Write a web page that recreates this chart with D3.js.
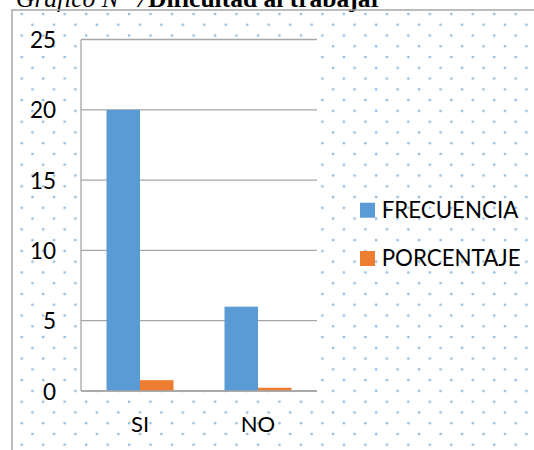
<!DOCTYPE html>
<html>
<head>
<meta charset="utf-8">
<script src="https://cdn.jsdelivr.net/npm/d3@7"></script>
<style>
  html, body { margin: 0; padding: 0; background: #fff; }
  svg { display: block; }
</style>
</head>
<body>
<svg id="chart" width="534" height="450"></svg>
<script>
// Chart data
const categories = ["SI", "NO"];
const seriesNames = ["FRECUENCIA", "PORCENTAJE"];
const frecuencia = [20, 6];
const porcentaje = [0.77, 0.23];
const yTicks = [0, 5, 10, 15, 20, 25];

const colors = { FRECUENCIA: "#5b9bd5", PORCENTAJE: "#ed7d31" };
const gridColor = "#a6a6a6";
const labelFont = "Lato, 'Open Sans', sans-serif";

const svg = d3.select("#chart");
const W = 534, H = 450;

// Dotted background pattern for the chart area
const defs = svg.append("defs");
const pat = defs.append("pattern")
  .attr("id", "dots")
  .attr("patternUnits", "userSpaceOnUse")
  .attr("x", 21.7 - 5).attr("y", 14 - 5)
  .attr("width", 21.48).attr("height", 21.54);
pat.append("circle").attr("cx", 5).attr("cy", 5).attr("r", 1.4)
  .attr("fill", "#5b9bd5").attr("opacity", 0.65);
pat.append("circle").attr("cx", 5 + 10.74).attr("cy", 5 + 10.77).attr("r", 1.4)
  .attr("fill", "#5b9bd5").attr("opacity", 0.65);

// Title (runs off the top of the page)
const title = svg.append("text")
  .attr("x", 16).attr("y", 6.5)
  .attr("font-family", "'Liberation Serif', 'Times New Roman', serif")
  .attr("font-size", 25.5)
  .attr("fill", "#000");
title.append("tspan").attr("font-style", "italic").text("Gráfico N° 7");
title.append("tspan").attr("font-weight", "bold").text("Dificultad al trabajar");

// Chart area with dotted fill and frame
svg.append("rect")
  .attr("x", 12).attr("y", 10)
  .attr("width", W - 12 + 2).attr("height", H - 10 + 2)
  .attr("fill", "url(#dots)")
  .attr("stroke", gridColor).attr("stroke-width", 1.5);

// Plot area
const plot = { left: 81, right: 317, top: 39.5, bottom: 391 };

const y = d3.scaleLinear().domain([0, 25]).range([plot.bottom, plot.top]);
const x0 = d3.scaleBand().domain(categories).range([plot.left, plot.right]);
const x1 = d3.scaleBand().domain(seriesNames)
  .range([25.5, x0.bandwidth() - 25.5]);

svg.append("rect")
  .attr("x", plot.left).attr("y", plot.top)
  .attr("width", plot.right - plot.left).attr("height", plot.bottom - plot.top)
  .attr("fill", "#fff");

// Horizontal gridlines
svg.append("g")
  .selectAll("line")
  .data(yTicks)
  .join("line")
  .attr("x1", plot.left).attr("x2", plot.right)
  .attr("y1", d => y(d)).attr("y2", d => y(d))
  .attr("stroke", gridColor).attr("stroke-width", 1.3);

// Vertical axis line
svg.append("line")
  .attr("x1", plot.left).attr("x2", plot.left)
  .attr("y1", plot.top).attr("y2", plot.bottom)
  .attr("stroke", gridColor).attr("stroke-width", 1.3);

// Bars
const rows = categories.map((c, i) => ({
  cat: c,
  vals: [
    { key: "FRECUENCIA", v: frecuencia[i] },
    { key: "PORCENTAJE", v: porcentaje[i] }
  ]
}));

svg.append("g")
  .selectAll("g")
  .data(rows)
  .join("g")
  .attr("transform", d => `translate(${x0(d.cat)},0)`)
  .selectAll("rect")
  .data(d => d.vals)
  .join("rect")
  .attr("x", d => x1(d.key))
  .attr("width", x1.bandwidth())
  .attr("y", d => y(d.v))
  .attr("height", d => y(0) - y(d.v))
  .attr("fill", d => colors[d.key]);

// Baseline drawn over the bars
svg.append("line")
  .attr("x1", plot.left).attr("x2", plot.right)
  .attr("y1", y(0)).attr("y2", y(0))
  .attr("stroke", gridColor).attr("stroke-width", 1.3);

// Y axis tick labels
const yAxis = d3.axisLeft(y).tickValues(yTicks).tickSize(0).tickPadding(0);
const yg = svg.append("g")
  .attr("transform", `translate(56,0)`)
  .call(yAxis);
yg.select(".domain").remove();
yg.selectAll("text")
  .attr("font-family", labelFont)
  .attr("font-size", 22.5)
  .attr("fill", "#000")
  .attr("dy", "0.36em");

// X axis category labels
const xAxis = d3.axisBottom(x0).tickSize(0).tickPadding(0);
const xg = svg.append("g")
  .attr("transform", `translate(0,${plot.bottom + 25})`)
  .call(xAxis);
xg.select(".domain").remove();
xg.selectAll("text")
  .attr("font-family", labelFont)
  .attr("font-size", 22)
  .attr("fill", "#000")
  .attr("dy", "0.72em");

// Legend
const legend = svg.append("g")
  .selectAll("g")
  .data(seriesNames)
  .join("g")
  .attr("transform", (d, i) => `translate(360,${202.7 + i * 48.3})`);
legend.append("rect")
  .attr("width", 15).attr("height", 15)
  .attr("fill", d => colors[d]);
legend.append("text")
  .attr("x", 21.7).attr("y", 15.3)
  .attr("font-family", labelFont)
  .attr("font-size", 22.3)
  .attr("fill", "#000")
  .text(d => d);
</script>
</body>
</html>
